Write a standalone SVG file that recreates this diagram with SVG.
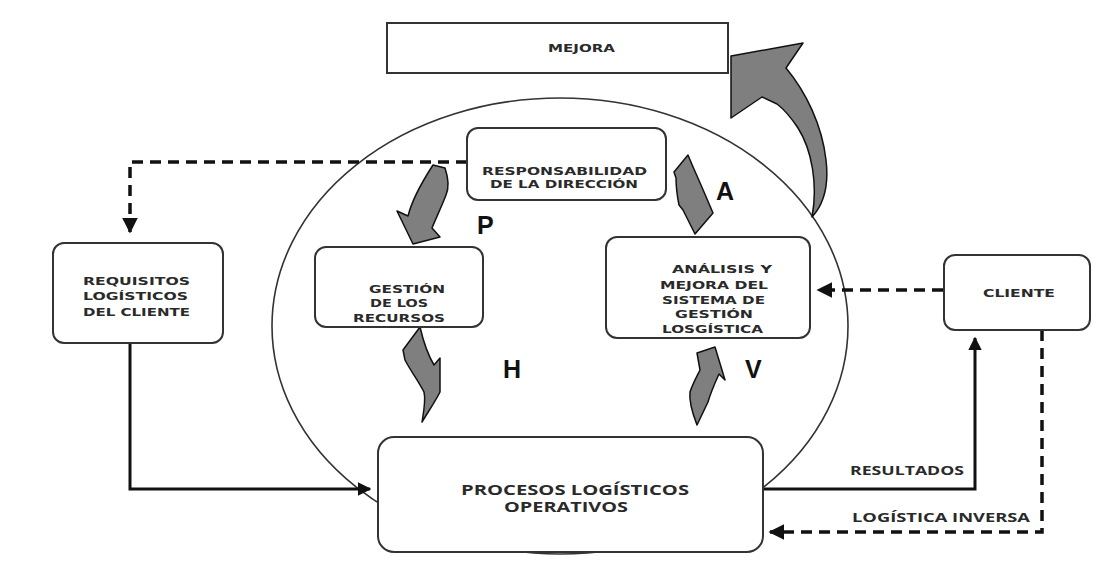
<svg xmlns="http://www.w3.org/2000/svg" width="1094" height="563" viewBox="0 0 1094 563">
<defs>
<style>
.box{fill:#fff;stroke:#333;stroke-width:2}
.lbl{font-family:"DejaVu Sans",sans-serif;font-weight:bold;font-size:10.5px;fill:#2a2a2a}
.lbl2{font-family:"Open Sans","Liberation Sans",sans-serif;font-weight:bold;fill:#2a2a2a}
.big{font-family:"Liberation Sans",Arial,sans-serif;font-weight:bold;font-size:25px;fill:#111}
.solid{fill:none;stroke:#111;stroke-width:3}
.dash{fill:none;stroke:#111;stroke-width:3.5;stroke-dasharray:11 7}
.garrow{fill:#7f7f7f;stroke:#111;stroke-width:1.5;stroke-linejoin:round}
</style>
<marker id="ah" viewBox="0 0 10 10" refX="9" refY="5" markerWidth="4.5" markerHeight="4.5" orient="auto" markerUnits="strokeWidth">
<path d="M0,0 L10,5 L0,10 z" fill="#111"/>
</marker>
</defs>
<rect width="1094" height="563" fill="#fff"/>

<g id="cycle">
<ellipse cx="560" cy="326" rx="288" ry="228" fill="none" stroke="#333" stroke-width="1.6"/>
</g>

<g id="connectors">
<path class="dash" d="M467,162 H130 V232" marker-end="url(#ah)"/>
<path class="dash" d="M943,290 H818" marker-end="url(#ah)"/>
<path class="solid" d="M130,343 V489 H370" marker-end="url(#ah)"/>
<path class="solid" d="M763,489 H975 V338" marker-end="url(#ah)"/>
<path class="dash" d="M1042,330 V532 H770" marker-end="url(#ah)"/>
</g>

<g id="arrows">
<path class="garrow" d="M731,56 L803,43 L786,68 C806,92 822,125 826,160 C829,185 825,203 812,217 C818,185 812,150 798,128 C790,116 785,110 777,104 L762,97 L731,118 Z"/>
<path class="garrow" d="M433,165 L445,168 C449,180 449,188 446,195 C441,208 436,218 432,228 L440,237 L413,244 L397,211 L408,216 C412,200 420,185 433,165 Z"/>
<path class="garrow" d="M688,155 C692,165 698,178 704,192 L713,213 L695,234 L683,210 L679,205 C677,195 676,185 676,178 L674,172 Z"/>
<path class="garrow" d="M715,347 L725,380 L719,374 C714,385 710,395 708,402 L697,425 C692,412 689,400 690,392 C693,383 697,376 700,370 L697,353 Z"/>
<path class="garrow" d="M420,327 C423,340 428,355 434,365 L440,358 L440,392 C435,402 428,412 422,422 C424,410 426,400 424,392 C418,380 410,370 405,360 L403,350 Z"/>
</g>

<g id="mejora">
<rect class="box" x="387" y="23" width="341" height="50"/>
<text class="lbl" x="548" y="52" textLength="67" lengthAdjust="spacingAndGlyphs">MEJORA</text>
</g>

<g id="responsabilidad">
<rect class="box" x="467" y="128" width="199" height="72" rx="11"/>
<text class="lbl" x="482" y="175" textLength="165" lengthAdjust="spacingAndGlyphs">RESPONSABILIDAD</text>
<text class="lbl" x="490" y="188" textLength="148" lengthAdjust="spacingAndGlyphs">DE LA DIRECCIÓN</text>
</g>

<g id="gestion">
<rect class="box" x="315" y="247" width="168" height="80" rx="11"/>
<text class="lbl" x="369" y="293" textLength="76" lengthAdjust="spacingAndGlyphs">GESTIÓN</text>
<text class="lbl" x="370" y="307" textLength="58" lengthAdjust="spacingAndGlyphs">DE LOS</text>
<text class="lbl" x="353" y="322" textLength="92" lengthAdjust="spacingAndGlyphs">RECURSOS</text>
</g>

<g id="analisis">
<rect class="box" x="606" y="237" width="204" height="101" rx="11"/>
<text class="lbl" x="672" y="273" textLength="100" lengthAdjust="spacingAndGlyphs">ANÁLISIS Y</text>
<text class="lbl" x="660" y="289" textLength="108" lengthAdjust="spacingAndGlyphs">MEJORA DEL</text>
<text class="lbl" x="662" y="304" textLength="103" lengthAdjust="spacingAndGlyphs">SISTEMA DE</text>
<text class="lbl" x="675" y="318" textLength="78" lengthAdjust="spacingAndGlyphs">GESTIÓN</text>
<text class="lbl" x="662" y="333" textLength="101" lengthAdjust="spacingAndGlyphs">LOSGÍSTICA</text>
</g>

<g id="requisitos">
<rect class="box" x="53" y="243" width="170" height="100" rx="11"/>
<text class="lbl" x="83" y="285" textLength="107" lengthAdjust="spacingAndGlyphs">REQUISITOS</text>
<text class="lbl" x="83" y="300" textLength="105" lengthAdjust="spacingAndGlyphs">LOGÍSTICOS</text>
<text class="lbl" x="83" y="316" textLength="107" lengthAdjust="spacingAndGlyphs">DEL CLIENTE</text>
</g>

<g id="cliente">
<rect class="box" x="944" y="255" width="146" height="75" rx="11"/>
<text class="lbl" x="983" y="297" textLength="72" lengthAdjust="spacingAndGlyphs">CLIENTE</text>
</g>

<g id="procesos">
<rect class="box" x="378" y="437" width="385" height="115" rx="16"/>
<text class="lbl2" x="461" y="495" font-size="13.5" textLength="228" lengthAdjust="spacingAndGlyphs">PROCESOS LOGÍSTICOS</text>
<text class="lbl2" x="504" y="512" font-size="13.5" textLength="124" lengthAdjust="spacingAndGlyphs">OPERATIVOS</text>
</g>

<g id="labels">
<text class="lbl2" x="850" y="475" font-size="11.5" textLength="114" lengthAdjust="spacingAndGlyphs">RESULTADOS</text>
<text class="lbl2" x="852" y="522" font-size="11.5" textLength="178" lengthAdjust="spacingAndGlyphs">LOGÍSTICA INVERSA</text>
<text class="big" x="477" y="234">P</text>
<text class="big" x="716" y="200">A</text>
<text class="big" x="503" y="378">H</text>
<text class="big" x="745" y="378">V</text>
</g>
</svg>
